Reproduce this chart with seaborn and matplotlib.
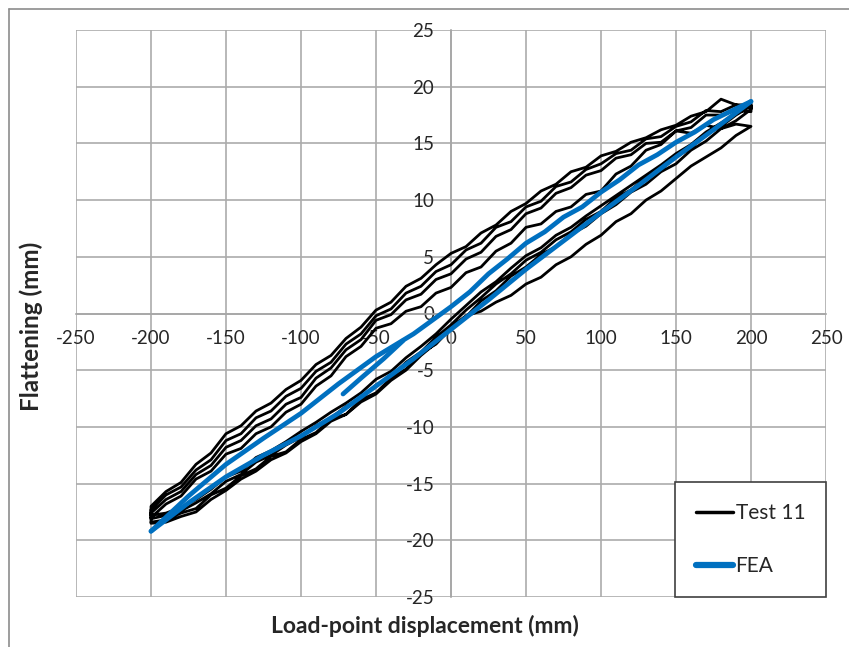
import pandas as pd
import seaborn as sns
import matplotlib.pyplot as plt
from matplotlib.lines import Line2D

# displacement grid shared by all test branches (mm)
X_GRID = [-200, -190, -180, -170, -160, -150, -140, -130, -120, -110, -100,
          -90, -80, -70, -60, -50, -40, -30, -20, -10, 0,
          10, 20, 30, 40, 50, 60, 70, 80, 90, 100,
          110, 120, 130, 140, 150, 160, 170, 180, 190, 200]

# Test 11 - loading branches (read left to right)
LOAD_A = [-18.4, -18.2, -17.6, -17.2, -16.0, -15.4, -14.3, -13.7, -12.6, -12.2, -11.1,
          -10.5, -9.3, -8.9, -7.6, -7.0, -5.7, -4.9, -3.5, -2.7, -1.3,
          -0.3, 1.1, 2.0, 3.3, 4.1, 5.2, 5.9, 7.0, 7.7, 8.8,
          9.6, 10.7, 11.4, 12.5, 13.2, 14.4, 15.2, 16.3, 17.0, 18.0]
LOAD_B = [-18.1, -17.8, -17.4, -16.7, -15.9, -14.8, -14.2, -13.1, -12.5, -11.6, -10.9,
          -9.9, -9.2, -8.2, -7.5, -6.3, -5.6, -4.3, -3.4, -2.1, -1.0,
          0.3, 1.4, 2.6, 3.5, 4.7, 5.4, 6.5, 7.2, 8.3, 9.0,
          10.2, 10.9, 12.0, 12.7, 13.8, 14.6, 15.8, 16.5, 17.5, 18.3]
LOAD_C = [-17.8, -17.6, -17.1, -16.4, -15.5, -14.4, -13.9, -12.7, -12.1, -11.3, -10.4,
          -9.6, -8.7, -7.9, -7.0, -5.8, -5.1, -3.9, -2.9, -1.8, -0.5,
          0.7, 1.9, 2.8, 4.0, 5.1, 5.8, 6.9, 7.6, 8.6, 9.5,
          10.4, 11.3, 12.2, 13.1, 14.1, 14.9, 16.0, 16.8, 17.6, 18.6]
LOAD_D = [-18.5, -18.4, -17.9, -17.5, -16.4, -15.6, -14.6, -13.9, -12.9, -12.3, -11.3,
          -10.6, -9.5, -8.9, -7.8, -7.1, -5.9, -5.0, -3.7, -2.6, -1.2,
          -0.2, 0.2, 1.0, 1.6, 2.6, 3.2, 4.3, 5.0, 6.1, 6.9,
          8.1, 8.8, 10.0, 10.8, 11.9, 13.0, 13.8, 14.6, 15.7, 16.5]

# Test 11 - unloading branches (also listed left to right)
UNLOAD_1 = [-17.0, -15.7, -14.9, -13.3, -12.3, -10.6, -9.9, -8.6, -7.9, -6.7, -5.9,
            -4.5, -3.7, -2.2, -1.2, 0.3, 1.0, 2.4, 3.1, 4.3, 5.3,
            5.9, 7.1, 7.8, 9.0, 9.7, 10.8, 11.4, 12.5, 12.9, 13.9,
            14.3, 15.1, 15.5, 16.2, 16.6, 17.4, 17.8, 18.9, 18.4, 18.4]
UNLOAD_2 = [-17.3, -16.0, -15.3, -13.8, -12.9, -11.2, -10.6, -9.2, -8.6, -7.3, -6.6,
            -5.1, -4.3, -2.7, -1.8, -0.2, 0.4, 1.8, 2.4, 3.7, 4.3,
            5.6, 6.2, 7.6, 8.1, 9.4, 9.9, 11.2, 11.6, 12.7, 13.2,
            14.1, 14.4, 15.4, 15.6, 16.5, 16.9, 17.9, 17.8, 18.4, 18.1]
UNLOAD_3 = [-17.6, -16.4, -15.7, -14.2, -13.4, -11.8, -11.2, -9.9, -9.3, -8.0, -7.4,
            -5.7, -4.8, -3.2, -2.3, -0.6, -0.1, 1.2, 1.7, 3.0, 3.5,
            4.8, 5.4, 6.8, 7.4, 8.8, 9.3, 10.6, 11.1, 12.2, 12.6,
            13.7, 14.0, 15.0, 15.1, 16.1, 16.4, 17.5, 17.5, 17.9, 17.8]
UNLOAD_4 = [-18.0, -16.8, -16.1, -14.6, -13.9, -12.4, -11.9, -10.6, -10.0, -8.7, -8.0,
            -6.4, -5.5, -3.8, -2.9, -1.3, -0.9, 0.2, 0.6, 1.8, 2.3,
            3.6, 4.1, 5.5, 6.2, 7.6, 7.9, 9.0, 9.4, 10.5, 10.8,
            12.3, 13.0, 14.4, 14.9, 16.1, 15.9, 16.6, 16.3, 16.7, 16.5]

# FEA
FEA_START_X = [-72, -60, -45, -32]
FEA_START_Y = [-7.1, -5.7, -4.0, -2.4]
FEA_UNLOAD_X = [200, 187.5, 175, 162.5, 150, 137.5, 125, 112.5, 100, 87.5, 75, 62.5, 50,
                37.5, 25, 12.5, 0, -25, -50, -75, -100, -125, -150, -175, -200]
FEA_UNLOAD_Y = [18.7, 17.9, 17.1, 16.0, 15.1, 14.0, 13.1, 11.8, 10.7, 9.4, 8.5, 7.2, 6.2,
                4.8, 3.5, 1.9, 0.6, -1.8, -3.8, -6.2, -8.8, -11.0, -13.3, -16.1, -19.2]
FEA_LOAD_X = [-200, -175, -150, -125, -100, -75, -50, -25, 0, 25, 50, 75, 100, 125, 150, 175, 200]
FEA_LOAD_Y = [-19.2, -16.7, -14.4, -12.5, -10.8, -8.8, -6.4, -4.0, -1.4, 1.2, 3.9, 6.4,
              8.9, 11.3, 13.8, 16.2, 18.7]

X_TICKS = [-250, -200, -150, -100, -50, 0, 50, 100, 150, 200, 250]
Y_TICKS = [-25, -20, -15, -10, -5, 0, 5, 10, 15, 20, 25]

# one continuous test record: load, unload, load, unload ...
test_parts = []
for load, unload in [(LOAD_A, UNLOAD_1), (LOAD_B, UNLOAD_2), (LOAD_C, UNLOAD_3), (LOAD_D, UNLOAD_4)]:
    test_parts.append(pd.DataFrame({'x': X_GRID, 'y': load}))
    test_parts.append(pd.DataFrame({'x': X_GRID[::-1], 'y': unload[::-1]}))
test = pd.concat(test_parts, ignore_index=True)

fea = pd.concat([
    pd.DataFrame({'x': FEA_START_X, 'y': FEA_START_Y, 'part': 0}),
    pd.DataFrame({'x': FEA_UNLOAD_X, 'y': FEA_UNLOAD_Y, 'part': 1}),
    pd.DataFrame({'x': FEA_LOAD_X, 'y': FEA_LOAD_Y, 'part': 2}),
], ignore_index=True)

sns.set_style('white')
plt.rcParams['font.family'] = ['Lato', 'DejaVu Sans']
plt.rcParams['axes.unicode_minus'] = False

fig = plt.figure(figsize=(8.49, 6.47), dpi=100)
ax = fig.add_axes([76 / 849, 50 / 647, 750 / 849, 567 / 647])

sns.lineplot(data=test, x='x', y='y', sort=False, estimator=None,
             color='black', linewidth=2.0, ax=ax)
sns.lineplot(data=fea, x='x', y='y', units='part', sort=False, estimator=None,
             color='#0070C0', linewidth=3.4, ax=ax)

ax.set_xlim(-250, 250)
ax.set_ylim(-25, 25)
ax.set_xticks(X_TICKS)
ax.set_yticks(Y_TICKS)
ax.set_xlabel('')
ax.set_ylabel('')
ax.set_axisbelow(True)
ax.grid(True, color='#ABABAB', linewidth=1.2)

ax.spines['top'].set_visible(False)
ax.spines['right'].set_visible(False)
ax.spines['left'].set_position(('data', 0))
ax.spines['bottom'].set_position(('data', 0))
for s in ['left', 'bottom']:
    ax.spines[s].set_color('#A6A6A6')
    ax.spines[s].set_linewidth(1.2)
    ax.spines[s].set_zorder(0.6)
ax.tick_params(length=0, pad=12, labelsize=13.5, labelcolor='#262626')

handles = [Line2D([], [], color='black', linewidth=2.5),
           Line2D([], [], color='#0070C0', linewidth=4.5)]
leg = ax.legend(handles, ['Test 11', 'FEA'], loc='lower right', bbox_to_anchor=(1, 0),
                borderaxespad=0, frameon=True, fancybox=False, edgecolor='#404040',
                framealpha=1, fontsize=15, handlelength=1.8, handletextpad=0.1,
                labelspacing=1.6, borderpad=1.0)
leg.get_frame().set_linewidth(1.2)

fig.text(0.5, 1 - 626 / 647, 'Load-point displacement (mm)', ha='center', va='center',
         fontsize=16.5, fontweight='bold')
fig.text(31 / 849, 1 - 326 / 647, 'Flattening (mm)', ha='center', va='center',
         rotation=90, fontsize=17.5, fontweight='bold')

# outer chart border (top and left edges only visible)
fig.add_artist(Line2D([8.5 / 849, 8.5 / 849], [0, 1 - 8.5 / 647], color='#8C8C8C', linewidth=1.2))
fig.add_artist(Line2D([8.5 / 849, 1], [1 - 8.5 / 647, 1 - 8.5 / 647], color='#8C8C8C', linewidth=1.2))

fig.savefig('out.png', dpi=100)
